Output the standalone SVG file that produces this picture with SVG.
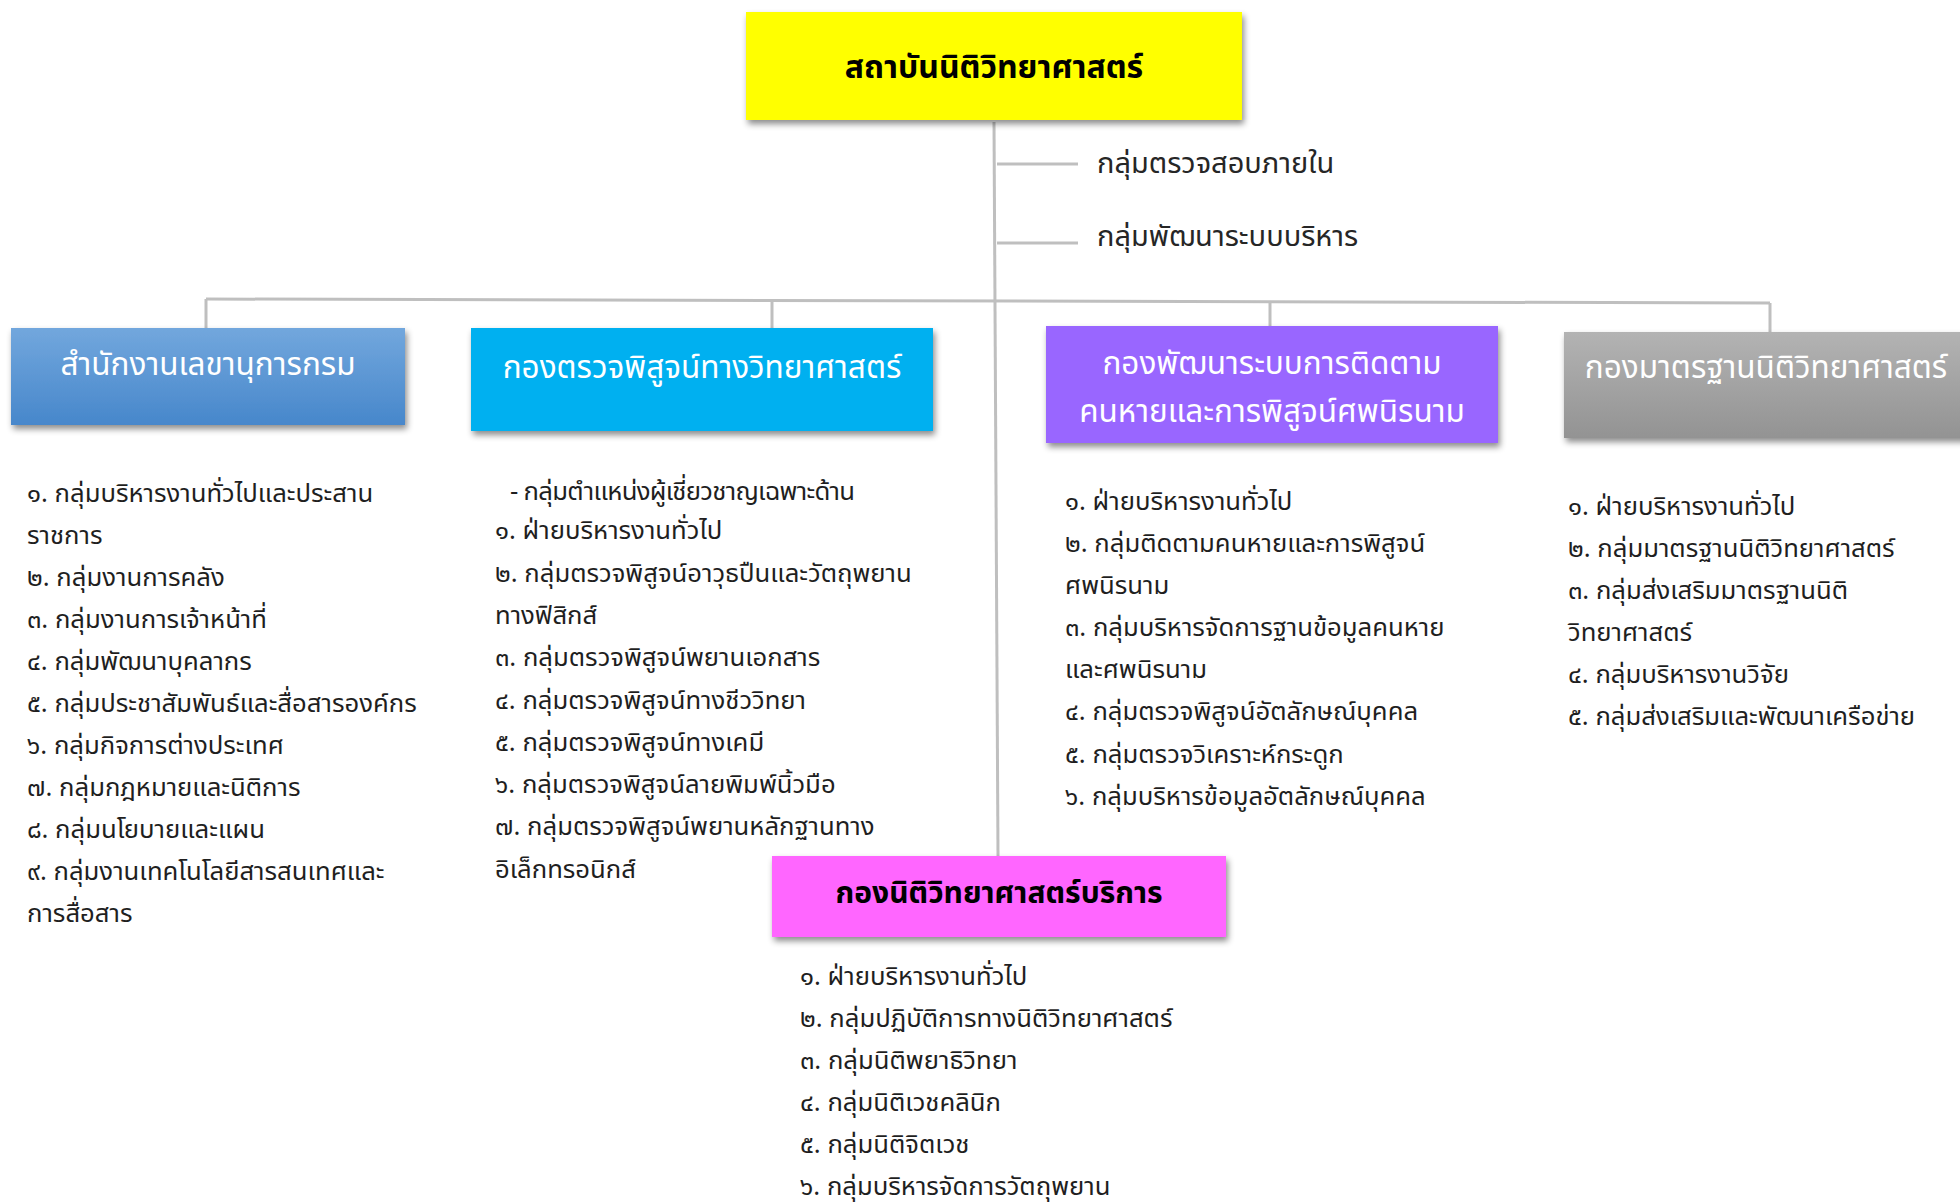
<svg xmlns="http://www.w3.org/2000/svg" width="1960" height="1204" viewBox="0 0 1960 1204">
<defs>
<filter id="sh" x="-5%" y="-10%" width="115%" height="140%">
<feDropShadow dx="2" dy="4" stdDeviation="3" flood-color="#000" flood-opacity="0.45"/>
</filter>
<linearGradient id="gBlue" x1="0" y1="0" x2="0" y2="1">
<stop offset="0" stop-color="#72a7dd"/>
<stop offset="1" stop-color="#4787cb"/>
</linearGradient>
<linearGradient id="gGray" x1="0" y1="0" x2="0" y2="1">
<stop offset="0" stop-color="#b3b3b3"/>
<stop offset="1" stop-color="#939393"/>
</linearGradient>
</defs>
<style>
text{font-family:"Noto Sans Thai","Noto Sans Thai UI","Noto Sans","DejaVu Sans",sans-serif;}
.li{font-size:25.7px;fill:#1f1f1f;}
.side{font-size:29px;fill:#262626;}
.hd{font-size:31.5px;fill:#ffffff;text-anchor:middle;}
.tt{font-weight:bold;fill:#000;text-anchor:middle;}
.ln{stroke:#bfbfbf;stroke-width:3;fill:none;}
</style>
<g id="connectors">
<line class="ln" x1="994" y1="122" x2="998" y2="856"/>
<line class="ln" x1="997" y1="164" x2="1078" y2="164"/>
<line class="ln" x1="997" y1="243" x2="1078" y2="243"/>
<line class="ln" x1="206" y1="299" x2="1770" y2="303"/>
<line class="ln" x1="206" y1="299" x2="206" y2="328"/>
<line class="ln" x1="772" y1="301" x2="772" y2="328"/>
<line class="ln" x1="1270" y1="302" x2="1270" y2="326"/>
<line class="ln" x1="1770" y1="303" x2="1770" y2="332"/>
</g>
<g id="root">
<rect x="746" y="12" width="496" height="108" fill="#ffff00" filter="url(#sh)"/>
<text class="tt" x="994" y="78" font-size="32">สถาบันนิติวิทยาศาสตร์</text>
</g>
<g id="side-groups">
<text class="side" x="1097" y="173">กลุ่มตรวจสอบภายใน</text>
<text class="side" x="1097" y="246">กลุ่มพัฒนาระบบบริหาร</text>
</g>
<g id="secretariat">
<rect x="11" y="328" width="394" height="97" fill="url(#gBlue)" filter="url(#sh)"/>
<text class="hd" x="208" y="375">สำนักงานเลขานุการกรม</text>
<text class="li" x="27" y="502">๑. กลุ่มบริหารงานทั่วไปและประสาน</text>
<text class="li" x="27" y="544">ราชการ</text>
<text class="li" x="27" y="586">๒. กลุ่มงานการคลัง</text>
<text class="li" x="27" y="628">๓. กลุ่มงานการเจ้าหน้าที่</text>
<text class="li" x="27" y="670">๔. กลุ่มพัฒนาบุคลากร</text>
<text class="li" x="27" y="712">๕. กลุ่มประชาสัมพันธ์และสื่อสารองค์กร</text>
<text class="li" x="27" y="754">๖. กลุ่มกิจการต่างประเทศ</text>
<text class="li" x="27" y="796">๗. กลุ่มกฎหมายและนิติการ</text>
<text class="li" x="27" y="838">๘. กลุ่มนโยบายและแผน</text>
<text class="li" x="27" y="880">๙. กลุ่มงานเทคโนโลยีสารสนเทศและ</text>
<text class="li" x="27" y="922">การสื่อสาร</text>
</g>
<g id="sci-exam">
<rect x="471" y="328" width="462" height="103" fill="#00b0f0" filter="url(#sh)"/>
<text class="hd" x="702" y="378">กองตรวจพิสูจน์ทางวิทยาศาสตร์</text>
<text class="li" x="510" y="500" textLength="345">- กลุ่มตำแหน่งผู้เชี่ยวชาญเฉพาะด้าน</text>
<text class="li" x="495" y="539">๑. ฝ่ายบริหารงานทั่วไป</text>
<text class="li" x="495" y="582">๒. กลุ่มตรวจพิสูจน์อาวุธปืนและวัตถุพยาน</text>
<text class="li" x="495" y="624">ทางฟิสิกส์</text>
<text class="li" x="495" y="666">๓. กลุ่มตรวจพิสูจน์พยานเอกสาร</text>
<text class="li" x="495" y="709">๔. กลุ่มตรวจพิสูจน์ทางชีววิทยา</text>
<text class="li" x="495" y="751">๕. กลุ่มตรวจพิสูจน์ทางเคมี</text>
<text class="li" x="495" y="793">๖. กลุ่มตรวจพิสูจน์ลายพิมพ์นิ้วมือ</text>
<text class="li" x="495" y="835">๗. กลุ่มตรวจพิสูจน์พยานหลักฐานทาง</text>
<text class="li" x="495" y="878">อิเล็กทรอนิกส์</text>
</g>
<g id="missing-persons">
<rect x="1046" y="326" width="452" height="117" fill="#9966ff" filter="url(#sh)"/>
<text class="hd" x="1272" y="374">กองพัฒนาระบบการติดตาม</text>
<text class="hd" x="1272" y="422">คนหายและการพิสูจน์ศพนิรนาม</text>
<text class="li" x="1065" y="510">๑. ฝ่ายบริหารงานทั่วไป</text>
<text class="li" x="1065" y="552">๒. กลุ่มติดตามคนหายและการพิสูจน์</text>
<text class="li" x="1065" y="594">ศพนิรนาม</text>
<text class="li" x="1065" y="636">๓. กลุ่มบริหารจัดการฐานข้อมูลคนหาย</text>
<text class="li" x="1065" y="678">และศพนิรนาม</text>
<text class="li" x="1065" y="720">๔. กลุ่มตรวจพิสูจน์อัตลักษณ์บุคคล</text>
<text class="li" x="1065" y="763">๕. กลุ่มตรวจวิเคราะห์กระดูก</text>
<text class="li" x="1065" y="805">๖. กลุ่มบริหารข้อมูลอัตลักษณ์บุคคล</text>
</g>
<g id="standards">
<rect x="1564" y="332" width="420" height="106" fill="url(#gGray)" filter="url(#sh)"/>
<text class="hd" x="1766" y="378">กองมาตรฐานนิติวิทยาศาสตร์</text>
<text class="li" x="1568" y="515">๑. ฝ่ายบริหารงานทั่วไป</text>
<text class="li" x="1568" y="557">๒. กลุ่มมาตรฐานนิติวิทยาศาสตร์</text>
<text class="li" x="1568" y="599">๓. กลุ่มส่งเสริมมาตรฐานนิติ</text>
<text class="li" x="1568" y="641">วิทยาศาสตร์</text>
<text class="li" x="1568" y="683">๔. กลุ่มบริหารงานวิจัย</text>
<text class="li" x="1568" y="725">๕. กลุ่มส่งเสริมและพัฒนาเครือข่าย</text>
</g>
<g id="services">
<rect x="772" y="856" width="454" height="81" fill="#ff66ff" filter="url(#sh)"/>
<text class="tt" x="999" y="903" font-size="30">กองนิติวิทยาศาสตร์บริการ</text>
<text class="li" x="800" y="985">๑. ฝ่ายบริหารงานทั่วไป</text>
<text class="li" x="800" y="1027">๒. กลุ่มปฏิบัติการทางนิติวิทยาศาสตร์</text>
<text class="li" x="800" y="1069">๓. กลุ่มนิติพยาธิวิทยา</text>
<text class="li" x="800" y="1111">๔. กลุ่มนิติเวชคลินิก</text>
<text class="li" x="800" y="1153">๕. กลุ่มนิติจิตเวช</text>
<text class="li" x="800" y="1195">๖. กลุ่มบริหารจัดการวัตถุพยาน</text>
</g>
</svg>
